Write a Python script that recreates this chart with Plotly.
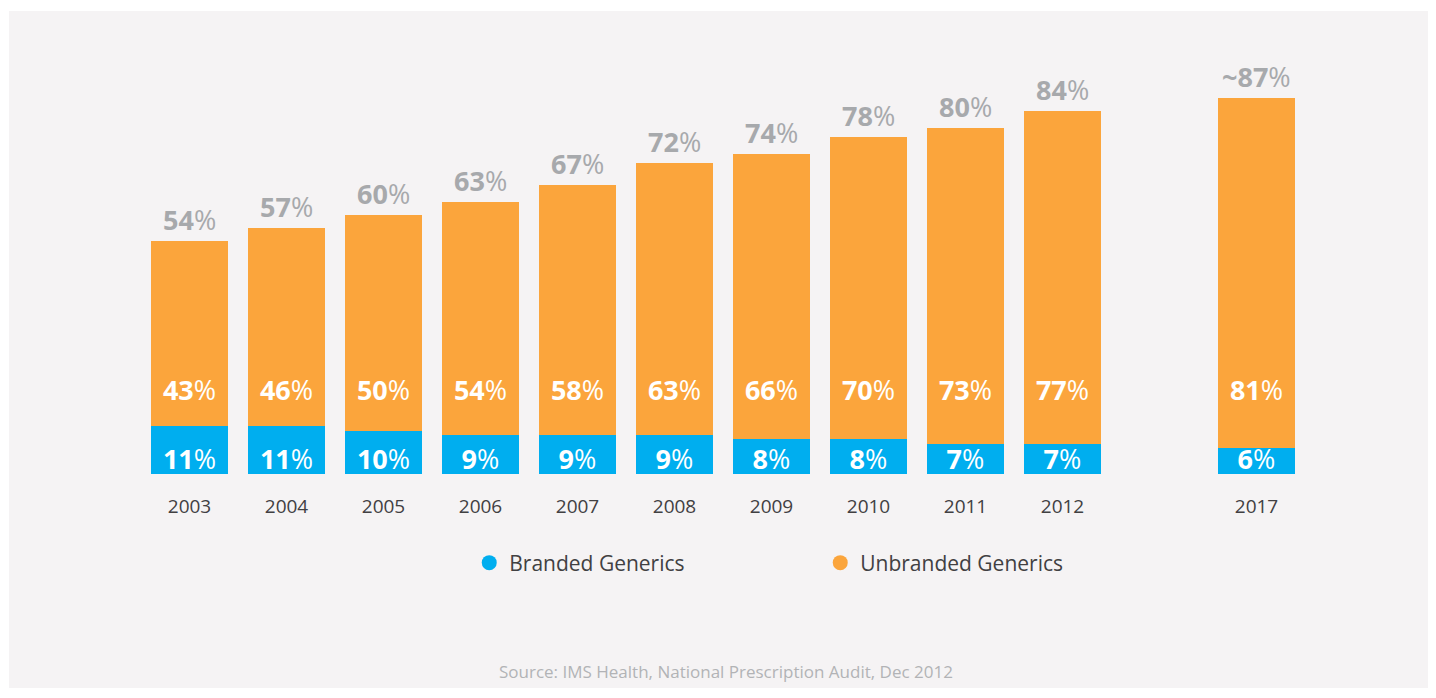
import plotly.graph_objects as go

years = ["2003", "2004", "2005", "2006", "2007", "2008", "2009", "2010", "2011", "2012", "2017"]
slots = [0, 1, 2, 3, 4, 5, 6, 7, 8, 9, 11]
branded = [11, 11, 10, 9, 9, 9, 8, 8, 7, 7, 6]
unbranded = [43, 46, 50, 54, 58, 63, 66, 70, 73, 77, 81]
totals = [54, 57, 60, 63, 67, 72, 74, 78, 80, 84, 87]
total_prefix = ["", "", "", "", "", "", "", "", "", "", "~"]

BLUE = "#00aeef"
ORANGE = "#fba53c"
GRAY = "#a7a9ac"
DARK = "#414042"
PANEL = "#f5f3f4"
FONT = "Open Sans"

OFF = 8  # page body margin
L = 44 - OFF
T = 42 - OFF
PW = 1358
PH = 432

fig = go.Figure()
fig.add_trace(go.Bar(x=slots, y=branded, marker=dict(color=BLUE, line=dict(width=0)),
                     width=0.79, showlegend=False, hoverinfo="skip"))
fig.add_trace(go.Bar(x=slots, y=unbranded, marker=dict(color=ORANGE, line=dict(width=0)),
                     width=0.79, showlegend=False, hoverinfo="skip"))

# label levels (style positions)
BLUE_LABEL_Y = 2.8
ORANGE_LABEL_Y = 18.8

fig.add_trace(go.Scatter(x=slots, y=[BLUE_LABEL_Y] * len(slots), mode="text",
                         text=[f"<b>{v}</b>%" for v in branded],
                         textfont=dict(color="white", size=27, family=FONT),
                         showlegend=False, hoverinfo="skip", cliponaxis=False))
fig.add_trace(go.Scatter(x=slots, y=[ORANGE_LABEL_Y] * len(slots), mode="text",
                         text=[f"<b>{v}</b>%" for v in unbranded],
                         textfont=dict(color="white", size=27, family=FONT),
                         showlegend=False, hoverinfo="skip", cliponaxis=False))

# legend entries
fig.add_trace(go.Scatter(x=[None], y=[None], mode="markers", name="Branded Generics",
                         marker=dict(color=BLUE, size=15, symbol="circle")))
fig.add_trace(go.Scatter(x=[None], y=[None], mode="markers", name="Unbranded Generics",
                         marker=dict(color=ORANGE, size=15, symbol="circle")))

def px_x(sx):
    return (sx - OFF - L) / PW

def px_y(sy):
    return (T + PH - (sy - OFF)) / PH

annotations = [dict(x=s, y=v, xref="x", yref="y", text=f"<b>{p}{v}</b>%",
                    showarrow=False, xanchor="center", yanchor="bottom", yshift=1,
                    font=dict(color=GRAY, size=27, family=FONT))
               for s, v, p in zip(slots, totals, total_prefix)]
annotations.append(dict(text="Source: IMS Health, National Prescription Audit, Dec 2012",
                        xref="paper", yref="paper", x=px_x(726), y=px_y(671),
                        xanchor="center", yanchor="middle", showarrow=False,
                        font=dict(size=17, color="#b2b3b6", family=FONT)))

fig.update_layout(
    width=1436, height=698,
    margin=dict(l=L, r=1436 - L - PW, t=T, b=698 - T - PH),
    barmode="stack",
    paper_bgcolor="white",
    plot_bgcolor=PANEL,
    font=dict(family=FONT, color=DARK),
    xaxis=dict(range=[-1.5, 12.5], tickvals=slots, ticktext=years, showgrid=False,
               zeroline=False, showline=False, ticks="outside", ticklen=15,
               tickcolor="rgba(0,0,0,0)", tickfont=dict(size=19, color=DARK, family=FONT)),
    yaxis=dict(range=[0, 100], visible=False, showgrid=False, zeroline=False),
    legend=dict(orientation="h", traceorder="normal",
                x=px_x(474) - 0.0035, xanchor="left", y=px_y(563), yanchor="middle",
                font=dict(size=21, color=DARK, family=FONT), entrywidth=306,
                bgcolor="rgba(0,0,0,0)"),
    shapes=[dict(type="rect", xref="paper", yref="paper",
                 x0=px_x(9), x1=px_x(1429),
                 y0=px_y(688), y1=px_y(11),
                 fillcolor=PANEL, line=dict(width=0), layer="below")],
    annotations=annotations,
)

fig.write_html("out.html")
